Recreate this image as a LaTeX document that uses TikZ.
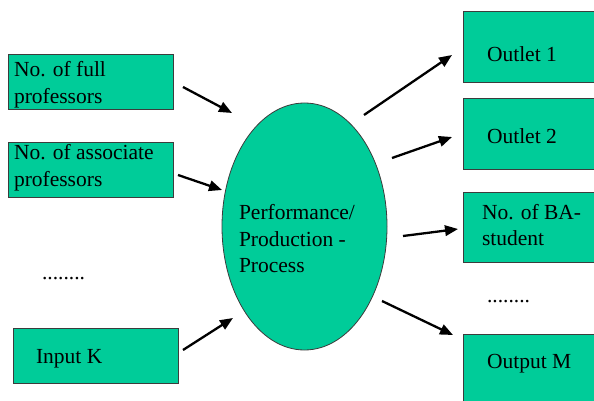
\documentclass[tikz,border=0pt]{standalone}
\usepackage{fontspec}
\setmainfont{Liberation Serif}
\newfontfamily\labelfont{Liberation Serif}
\usetikzlibrary{shapes.geometric,arrows.meta}
\definecolor{boxgreen}{RGB}{0,204,153}
\definecolor{rimgray}{RGB}{60,60,60}
\tikzset{
  box/.style={rectangle, draw=rimgray, line width=0.9pt, fill=boxgreen,
    anchor=north west, inner sep=0pt, outer sep=0pt},
  core/.style={ellipse, draw=rimgray, line width=0.8pt, fill=boxgreen,
    inner sep=0pt, outer sep=0pt},
  txt/.style={anchor=base west, inner sep=0pt, outer sep=0pt,
    font=\labelfont\fontsize{21.5}{26}\selectfont},
  arr/.style={line width=2.3pt, -{Triangle[length=13pt,width=10.5pt]}}
}
\begin{document}
\begin{tikzpicture}[x=1pt,y=-1pt]
\useasboundingbox (0,0) rectangle (594,401);
\clip (0,0) rectangle (594,401);

% input boxes
\node[box, minimum width=165pt, minimum height=55pt] (full) at (8,54) {};
\node[box, minimum width=165pt, minimum height=55pt] (assoc) at (8,142) {};
\node[box, minimum width=165pt, minimum height=55pt] (inK) at (13,328) {};

% output boxes (run past the right and bottom edge)
\node[box, minimum width=140pt, minimum height=71pt] (out1) at (463,11) {};
\node[box, minimum width=140pt, minimum height=71pt] (out2) at (463,98) {};
\node[box, minimum width=140pt, minimum height=70pt] (ba) at (463,192) {};
\node[box, minimum width=140pt, minimum height=76pt] (outM) at (463,334) {};

% central process
\node[core, minimum width=165pt, minimum height=247pt] (proc) at (304.5,226.5) {};

% labels
\node[txt] (fullA) at (14,77) {No. of full};
\node[txt] (fullB) at (14,104) {professors};
\node[txt] (assocA) at (14,159) {No. of associate};
\node[txt] (assocB) at (14,186) {professors};
\node[txt] (dotsL) at (42,279) {........};
\node[txt] (inKt) at (36,363) {Input K};

\node[txt] (procA) at (239,219) {Performance/};
\node[txt] (procB) at (239,246) {Production -};
\node[txt] (procC) at (239,272) {Process};

\node[txt] (out1t) at (487,62) {Outlet 1};
\node[txt] (out2t) at (487,143) {Outlet 2};
\node[txt] (baA) at (482,219) {No. of BA-};
\node[txt] (baB) at (482,245) {student};
\node[txt] (dotsR) at (487,302) {........};
\node[txt] (outMt) at (487,368) {Output M};

% arrow end points
\coordinate (fullS) at (183,87);   \coordinate (fullE) at (232,113);
\coordinate (assocS) at (178,175); \coordinate (assocE) at (222,190);
\coordinate (inKS) at (183,350);   \coordinate (inKE) at (233,318);
\coordinate (o1S) at (364,115);    \coordinate (o1E) at (452,55);
\coordinate (o2S) at (392,158);    \coordinate (o2E) at (452,137);
\coordinate (baS) at (403,236);    \coordinate (baE) at (458,229);
\coordinate (oMS) at (382,301);    \coordinate (oME) at (453,335);

% arrows
\draw[arr] (fullS) -- (fullE);
\draw[arr] (assocS) -- (assocE);
\draw[arr] (inKS) -- (inKE);
\draw[arr] (o1S) -- (o1E);
\draw[arr] (o2S) -- (o2E);
\draw[arr] (baS) -- (baE);
\draw[arr] (oMS) -- (oME);
\end{tikzpicture}
\end{document}
